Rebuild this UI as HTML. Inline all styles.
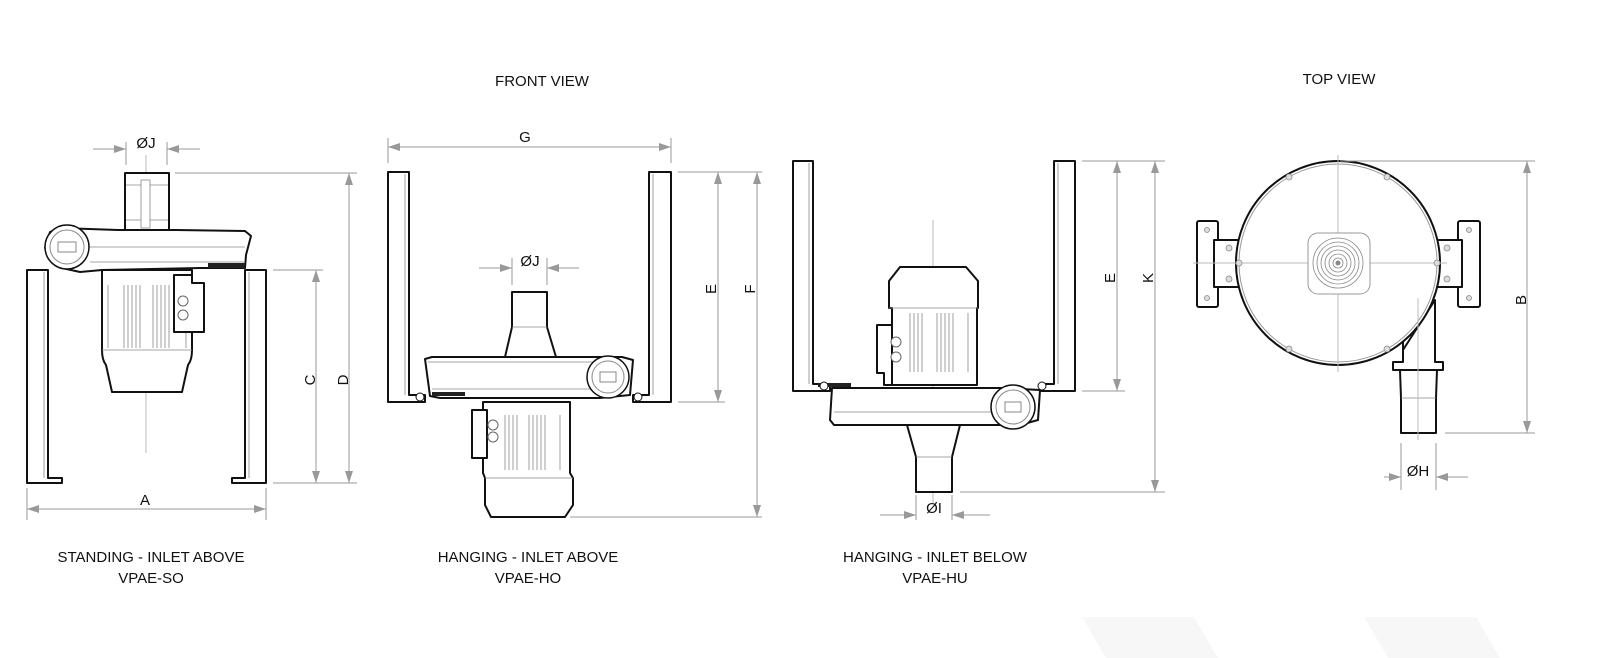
<!DOCTYPE html>
<html><head><meta charset="utf-8"><style>
html,body{margin:0;padding:0;background:#fff;}
svg{display:block;}
text{font-family:"Liberation Sans",sans-serif;fill:#111;}
.b{fill:#fff;stroke:#111;stroke-width:2;stroke-linejoin:round;}
.t{fill:none;stroke:#888;stroke-width:0.8;}
.d{fill:none;stroke:#999;stroke-width:1;}
.c{fill:none;stroke:#bbb;stroke-width:1;}
</style></head><body>
<svg width="1600" height="658" viewBox="0 0 1600 658" xmlns="http://www.w3.org/2000/svg">
<defs>
<marker id="a" viewBox="0 0 12 8" refX="12" refY="4" markerWidth="12" markerHeight="8" markerUnits="userSpaceOnUse" orient="auto-start-reverse"><path d="M0,0 L12,4 L0,8 z" fill="#999"/></marker>
</defs>

<!-- background parallelograms -->
<polygon points="1082,617 1194,617 1218,658 1106,658" fill="#f7f7f7"/>
<polygon points="1364,617 1476,617 1500,658 1388,658" fill="#f7f7f7"/>

<!-- titles -->
<text x="542" y="86" font-size="15" text-anchor="middle">FRONT VIEW</text>
<text x="1339" y="84" font-size="15" text-anchor="middle">TOP VIEW</text>
<g font-size="15" text-anchor="middle">
<text x="151" y="562">STANDING - INLET ABOVE</text><text x="151" y="583">VPAE-SO</text>
<text x="528" y="562">HANGING - INLET ABOVE</text><text x="528" y="583">VPAE-HO</text>
<text x="935" y="562">HANGING - INLET BELOW</text><text x="935" y="583">VPAE-HU</text>
</g>

<!-- ============ DRAWING 1 ============ -->
<line class="c" x1="146" y1="155" x2="146" y2="453"/>
<!-- legs -->
<path class="b" d="M27,270 H48 V478 H62 V483 H27 Z"/>
<line class="t" x1="44" y1="272" x2="44" y2="478"/>
<path class="b" d="M266,270 H245 V478 H232 V483 H266 Z"/>
<line class="t" x1="249" y1="272" x2="249" y2="478"/>
<!-- inlet -->
<path class="b" d="M125,173 H169 V230 H125 Z"/>
<line class="t" x1="126" y1="185" x2="168" y2="185"/><line class="t" x1="126" y1="220" x2="168" y2="220"/>
<rect x="141" y="180" width="9" height="48" fill="#fff" stroke="#888" stroke-width="0.8"/>
<!-- housing -->
<path class="b" d="M50,232 L60,228 L118,230 H176 L245,231 L251,236 L246,255 L245,268 L200,268 L102,270 L80,272 L62,268 L45,248 Z"/>
<line class="t" x1="85" y1="247" x2="245" y2="247"/>
<line class="t" x1="90" y1="262" x2="245" y2="262"/>
<circle cx="67" cy="247" r="22" fill="#fff" stroke="#111" stroke-width="1.5"/>
<circle cx="67" cy="247" r="17" fill="none" stroke="#888" stroke-width="1"/>
<rect x="58" y="242" width="18" height="10" fill="none" stroke="#888"/>
<rect x="208" y="263" width="37" height="5" fill="#222"/>
<!-- motor -->
<path class="b" d="M102,270 H192 V350 Q192,360 188,365 L182,392 H112 L106,365 Q102,360 102,350 Z"/>
<line class="t" x1="102" y1="350" x2="192" y2="350"/>
<g stroke="#888" stroke-width="0.8">
<line x1="108" y1="285" x2="108" y2="348"/><line x1="124" y1="285" x2="124" y2="348"/><line x1="128" y1="285" x2="128" y2="348"/><line x1="132" y1="285" x2="132" y2="348"/><line x1="136" y1="285" x2="136" y2="348"/><line x1="140" y1="285" x2="140" y2="348"/><line x1="153" y1="285" x2="153" y2="348"/><line x1="157" y1="285" x2="157" y2="348"/><line x1="161" y1="285" x2="161" y2="348"/><line x1="165" y1="285" x2="165" y2="348"/><line x1="169" y1="285" x2="169" y2="348"/><line x1="186" y1="285" x2="186" y2="348"/>
</g>
<path class="b" d="M174,275 H192 V283 H204 V332 H174 Z"/>
<circle cx="183" cy="301" r="5" fill="none" stroke="#666"/><circle cx="183" cy="315" r="5" fill="none" stroke="#666"/>
<!-- dims -->
<line class="d" x1="93" y1="149" x2="126" y2="149" marker-end="url(#a)"/>
<line class="d" x1="200" y1="149" x2="167" y2="149" marker-end="url(#a)"/>
<line class="d" x1="126" y1="142" x2="126" y2="165"/><line class="d" x1="167" y1="142" x2="167" y2="165"/>
<text x="146" y="148" font-size="15" text-anchor="middle">ØJ</text>
<line class="d" x1="175" y1="173" x2="357" y2="173"/>
<line class="d" x1="273" y1="270" x2="323" y2="270"/>
<line class="d" x1="273" y1="483" x2="357" y2="483"/>
<line class="d" x1="316" y1="270" x2="316" y2="483" marker-start="url(#a)" marker-end="url(#a)"/>
<line class="d" x1="349" y1="173" x2="349" y2="483" marker-start="url(#a)" marker-end="url(#a)"/>
<text transform="translate(315,380) rotate(-90)" font-size="15" text-anchor="middle">C</text>
<text transform="translate(348,380) rotate(-90)" font-size="15" text-anchor="middle">D</text>
<line class="d" x1="27" y1="488" x2="27" y2="520"/><line class="d" x1="266" y1="488" x2="266" y2="520"/>
<line class="d" x1="27" y1="509" x2="266" y2="509" marker-start="url(#a)" marker-end="url(#a)"/>
<text x="145" y="505" font-size="15" text-anchor="middle">A</text>

<!-- ============ DRAWING 2 ============ -->
<path class="b" d="M388,172 H409 V395 H425 V402 H388 Z"/>
<line class="t" x1="405" y1="174" x2="405" y2="395"/>
<path class="b" d="M671,172 H649 V395 H633 V402 H671 Z"/>
<line class="t" x1="653" y1="174" x2="653" y2="395"/>
<!-- inlet -->
<path class="b" d="M512,292 H547 V327 L556,357 H505 L512,327 Z"/>
<line class="t" x1="512" y1="327" x2="547" y2="327"/>
<!-- housing -->
<path class="b" d="M425,359 L432,357 H622 L633,360 L630,395 L600,398 H440 L430,396 Z"/>
<line class="t" x1="428" y1="362" x2="600" y2="362"/>
<line class="t" x1="432" y1="389" x2="600" y2="389"/>
<rect x="432" y="392" width="33" height="4" fill="#222"/>
<circle cx="608" cy="377" r="21" fill="#fff" stroke="#111" stroke-width="1.5"/>
<circle cx="608" cy="377" r="16" fill="none" stroke="#888"/>
<rect x="600" y="372" width="16" height="10" fill="none" stroke="#888"/>
<circle cx="420" cy="397" r="4" fill="#fff" stroke="#111"/><circle cx="638" cy="397" r="4" fill="#fff" stroke="#111"/>
<!-- motor -->
<path class="b" d="M483,402 H570 V473 L573,478 V505 L565,517 H491 L485,505 V478 L483,473 Z"/>
<line class="t" x1="485" y1="478" x2="573" y2="478"/>
<g stroke="#888" stroke-width="0.8">
<line x1="505" y1="415" x2="505" y2="470"/><line x1="509" y1="415" x2="509" y2="470"/><line x1="513" y1="415" x2="513" y2="470"/><line x1="517" y1="415" x2="517" y2="470"/><line x1="529" y1="415" x2="529" y2="470"/><line x1="533" y1="415" x2="533" y2="470"/><line x1="537" y1="415" x2="537" y2="470"/><line x1="541" y1="415" x2="541" y2="470"/><line x1="545" y1="415" x2="545" y2="470"/><line x1="560" y1="415" x2="560" y2="470"/>
</g>
<path class="b" d="M472,410 H487 V458 H472 Z"/>
<circle cx="493" cy="425" r="5" fill="#fff" stroke="#666"/><circle cx="493" cy="437" r="5" fill="#fff" stroke="#666"/>
<!-- dims -->
<line class="d" x1="388" y1="138" x2="388" y2="163"/><line class="d" x1="671" y1="138" x2="671" y2="163"/>
<line class="d" x1="388" y1="147" x2="671" y2="147" marker-start="url(#a)" marker-end="url(#a)"/>
<text x="525" y="142" font-size="15" text-anchor="middle">G</text>
<line class="d" x1="479" y1="268" x2="512" y2="268" marker-end="url(#a)"/>
<line class="d" x1="579" y1="268" x2="547" y2="268" marker-end="url(#a)"/>
<line class="d" x1="512" y1="258" x2="512" y2="285"/><line class="d" x1="547" y1="258" x2="547" y2="285"/>
<text x="530" y="266" font-size="15" text-anchor="middle">ØJ</text>
<line class="d" x1="678" y1="172" x2="762" y2="172"/>
<line class="d" x1="678" y1="402" x2="725" y2="402"/>
<line class="d" x1="570" y1="517" x2="762" y2="517"/>
<line class="d" x1="718" y1="172" x2="718" y2="402" marker-start="url(#a)" marker-end="url(#a)"/>
<line class="d" x1="757" y1="172" x2="757" y2="517" marker-start="url(#a)" marker-end="url(#a)"/>
<text transform="translate(716,289) rotate(-90)" font-size="15" text-anchor="middle">E</text>
<text transform="translate(755,289) rotate(-90)" font-size="15" text-anchor="middle">F</text>

<!-- ============ DRAWING 3 ============ -->
<line class="c" x1="933" y1="220" x2="933" y2="503"/>
<path class="b" d="M793,161 H813 V384 H830 V391 H793 Z"/>
<line class="t" x1="809" y1="163" x2="809" y2="384"/>
<path class="b" d="M1075,161 H1054 V384 H1040 V391 H1075 Z"/>
<line class="t" x1="1058" y1="163" x2="1058" y2="384"/>
<!-- motor -->
<path class="b" d="M889,281 L900,267 H966 L978,281 V308 H977 V385 H892 V308 H889 Z"/>
<line class="t" x1="889" y1="308" x2="978" y2="308"/>
<g stroke="#888" stroke-width="0.8">
<line x1="910" y1="313" x2="910" y2="372"/><line x1="914" y1="313" x2="914" y2="372"/><line x1="918" y1="313" x2="918" y2="372"/><line x1="922" y1="313" x2="922" y2="372"/><line x1="937" y1="313" x2="937" y2="372"/><line x1="941" y1="313" x2="941" y2="372"/><line x1="945" y1="313" x2="945" y2="372"/><line x1="949" y1="313" x2="949" y2="372"/><line x1="953" y1="313" x2="953" y2="372"/><line x1="968" y1="313" x2="968" y2="372"/>
</g>
<path class="b" d="M877,325 H892 V385 H884 V373 H877 Z"/>
<circle cx="896" cy="342" r="5" fill="#fff" stroke="#666"/><circle cx="896" cy="357" r="5" fill="#fff" stroke="#666"/>
<!-- housing -->
<path class="b" d="M832,388 H1000 L1040,390 L1038,420 L1020,425 H834 L830,420 Z"/>
<line class="t" x1="834" y1="412" x2="1000" y2="412"/>
<rect x="818" y="383" width="33" height="4" fill="#222"/>
<circle cx="1013" cy="407" r="22" fill="#fff" stroke="#111" stroke-width="1.5"/>
<circle cx="1013" cy="407" r="17" fill="none" stroke="#888"/>
<rect x="1005" y="402" width="16" height="10" fill="none" stroke="#888"/>
<circle cx="824" cy="386" r="4" fill="#fff" stroke="#111"/><circle cx="1042" cy="386" r="4" fill="#fff" stroke="#111"/>
<!-- outlet -->
<path class="b" d="M907,425 H960 L952,457 V492 H916 V457 Z"/>
<line class="t" x1="916" y1="457" x2="952" y2="457"/>
<!-- dims -->
<line class="d" x1="916" y1="495" x2="916" y2="520"/><line class="d" x1="952" y1="495" x2="952" y2="520"/>
<line class="d" x1="880" y1="515" x2="916" y2="515" marker-end="url(#a)"/>
<line class="d" x1="990" y1="515" x2="952" y2="515" marker-end="url(#a)"/>
<text x="934" y="513" font-size="15" text-anchor="middle">ØI</text>
<line class="d" x1="1082" y1="161" x2="1165" y2="161"/>
<line class="d" x1="1082" y1="391" x2="1125" y2="391"/>
<line class="d" x1="960" y1="492" x2="1165" y2="492"/>
<line class="d" x1="1117" y1="161" x2="1117" y2="391" marker-start="url(#a)" marker-end="url(#a)"/>
<line class="d" x1="1155" y1="161" x2="1155" y2="492" marker-start="url(#a)" marker-end="url(#a)"/>
<text transform="translate(1115,278) rotate(-90)" font-size="15" text-anchor="middle">E</text>
<text transform="translate(1153,278) rotate(-90)" font-size="15" text-anchor="middle">K</text>

<!-- ============ DRAWING 4 (TOP VIEW) ============ -->
<!-- brackets -->
<rect class="b" x="1197" y="221" width="21" height="86" rx="2"/>
<rect class="b" x="1214" y="240" width="26" height="47"/>
<rect class="b" x="1458" y="221" width="22" height="86" rx="2"/>
<rect class="b" x="1436" y="240" width="26" height="47"/>
<!-- outlet -->
<path class="b" d="M1403,340 V362 H1393 V370 H1443 V362 H1435 V300 L1403,350 Z"/>
<path class="b" d="M1400,370 H1437 L1436,398 V433 H1401 V398 Z"/>
<line class="t" x1="1401" y1="398" x2="1436" y2="398"/>
<circle cx="1338" cy="263" r="102" class="b"/>
<circle cx="1338" cy="263" r="99" fill="none" stroke="#999"/>
<line class="c" x1="1338" y1="155" x2="1338" y2="372"/>
<line class="c" x1="1193" y1="263" x2="1447" y2="263"/>
<line class="c" x1="1418" y1="298" x2="1418" y2="440"/>
<g fill="#ddd" stroke="#888" stroke-width="0.8">
<circle cx="1289" cy="177" r="3"/><circle cx="1387" cy="177" r="3"/><circle cx="1289" cy="349" r="3"/><circle cx="1387" cy="349" r="3"/>
<circle cx="1239" cy="263" r="3"/><circle cx="1437" cy="263" r="3"/>
<circle cx="1229" cy="248" r="3"/><circle cx="1229" cy="279" r="3"/><circle cx="1447" cy="248" r="3"/><circle cx="1447" cy="279" r="3"/>
<circle cx="1207" cy="230" r="2.5"/><circle cx="1207" cy="298" r="2.5"/><circle cx="1469" cy="230" r="2.5"/><circle cx="1469" cy="298" r="2.5"/>
</g>
<rect x="1308" y="233" width="62" height="61" rx="10" fill="#fff" stroke="#999"/>
<g fill="none" stroke="#888" stroke-width="0.8">
<circle cx="1338" cy="263" r="25"/><circle cx="1338" cy="263" r="21"/><circle cx="1338" cy="263" r="17"/><circle cx="1338" cy="263" r="13"/><circle cx="1338" cy="263" r="9"/><circle cx="1338" cy="263" r="5"/>
</g>
<circle cx="1338" cy="263" r="2.5" fill="#888"/>
<!-- dims -->
<line class="d" x1="1340" y1="161" x2="1535" y2="161"/>
<line class="d" x1="1445" y1="433" x2="1535" y2="433"/>
<line class="d" x1="1527" y1="161" x2="1527" y2="433" marker-start="url(#a)" marker-end="url(#a)"/>
<text transform="translate(1526,300) rotate(-90)" font-size="15" text-anchor="middle">B</text>
<line class="d" x1="1401" y1="443" x2="1401" y2="490"/><line class="d" x1="1436" y1="443" x2="1436" y2="490"/>
<line class="d" x1="1384" y1="477" x2="1401" y2="477" marker-end="url(#a)"/>
<line class="d" x1="1468" y1="477" x2="1436" y2="477" marker-end="url(#a)"/>
<text x="1418" y="476" font-size="15" text-anchor="middle">ØH</text>
</svg>
</body></html>
